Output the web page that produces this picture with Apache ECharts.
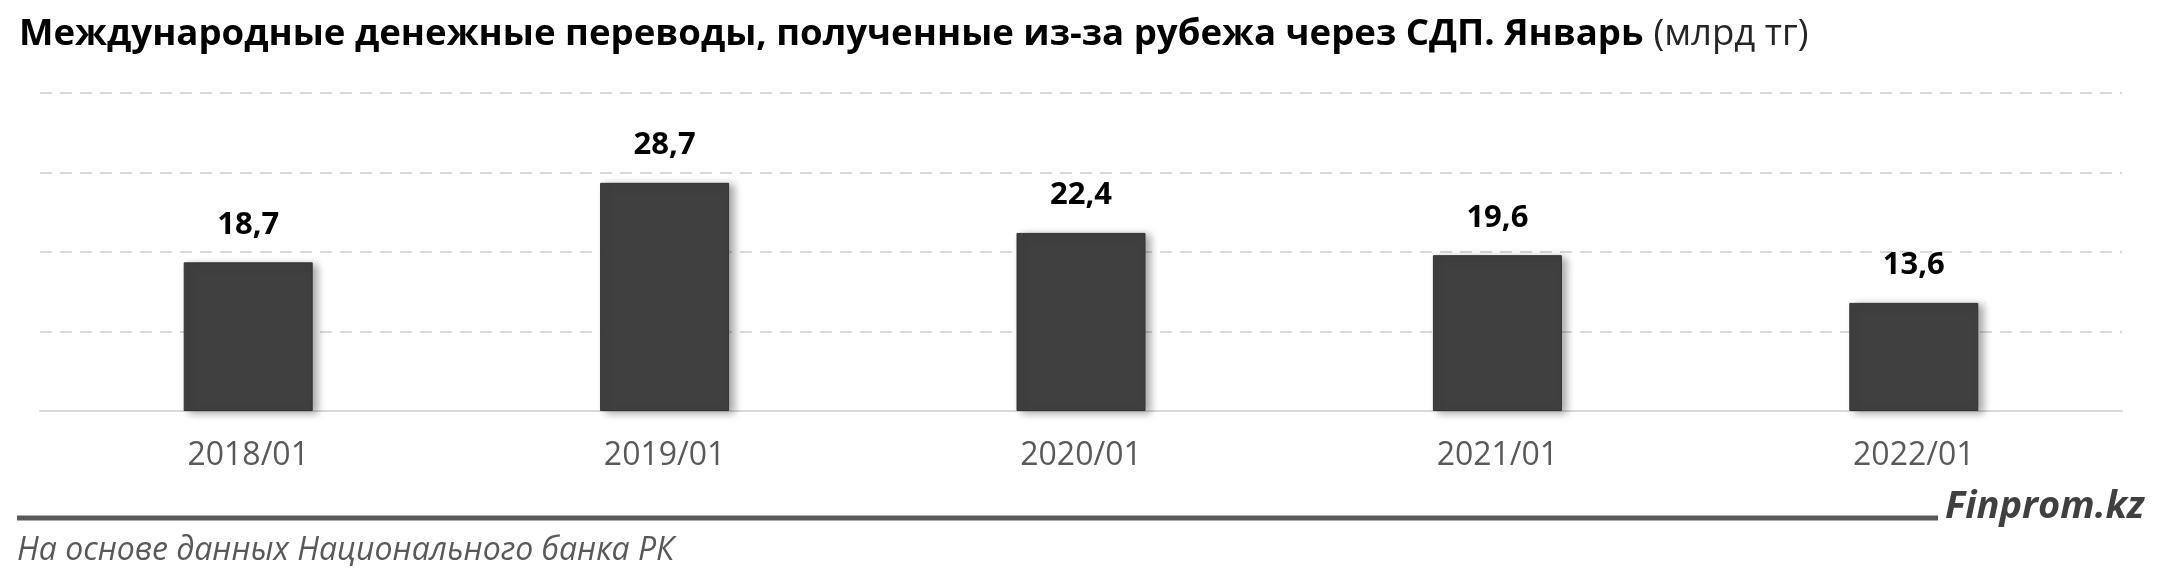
<!DOCTYPE html>
<html><head><meta charset="utf-8">
<script src="https://cdn.jsdelivr.net/npm/echarts@6/dist/echarts.min.js"></script>
<style>html,body{margin:0;padding:0;background:#fff}#c{width:2160px;height:582px}</style>
</head><body><div id="c"></div>
<script>
const categories = ['2018/01', '2019/01', '2020/01', '2021/01', '2022/01'];
const values = [18.7, 28.7, 22.4, 19.6, 13.6];
const titleMain = 'Международные денежные переводы, полученные из-за рубежа через СДП. Январь';
const titleUnit = '(млрд тг)';
const sourceText = 'На основе данных Национального банка РК';
const brandText = 'Finprom.kz';

const chart = echarts.init(document.getElementById('c'));
chart.setOption({
  animation: false,
  title: {
    text: '{b|' + titleMain + '}{s| }{r|' + titleUnit + '}',
    left: 14, top: 11,
    textStyle: {
      rich: {
        b: { fontFamily: 'Open Sans', fontWeight: 'bold', fontSize: 36.6, color: '#000' },
        s: { fontFamily: 'Open Sans', fontSize: 36.6, width: 10 },
        r: { fontFamily: 'Open Sans', fontWeight: 'normal', fontSize: 36.6, color: '#262626' }
      }
    }
  },
  grid: { left: 40, right: 38, top: 93, bottom: 171, containLabel: false },
  xAxis: {
    type: 'category', data: categories,
    axisLine: { lineStyle: { color: '#d9d9d9', width: 2 } },
    axisTick: { show: false },
    axisLabel: { fontFamily: 'Open Sans', fontSize: 32, color: '#595959', margin: 29 }
  },
  yAxis: {
    type: 'value', min: 0, max: 40, interval: 10,
    axisLabel: { show: false }, axisLine: { show: false }, axisTick: { show: false },
    splitLine: { lineStyle: { color: '#d9d9d9', width: 2, type: [12, 8] } }
  },
  series: [{
    type: 'bar', data: values, barWidth: 129,
    itemStyle: {
      color: '#404040', borderColor: '#333', borderWidth: 1,
      shadowColor: 'rgba(0,0,0,0.35)', shadowBlur: 8, shadowOffsetX: 5, shadowOffsetY: 2
    },
    label: {
      show: true, position: 'top', distance: 22,
      fontFamily: 'Open Sans', fontWeight: 'bold', fontSize: 31, color: '#000',
      formatter: p => String(p.value).replace('.', ',')
    }
  }],
  graphic: [
    { type: 'line', shape: { x1: 17, y1: 518, x2: 1938, y2: 518 },
      style: { stroke: '#595959', lineWidth: 5 } },
    { type: 'text', left: 1945, top: 488,
      style: { text: brandText, fontFamily: 'Open Sans', fontWeight: 'bold', fontStyle: 'italic', fontSize: 38, fill: '#404040' } },
    { type: 'text', left: 17, top: 535,
      style: { text: sourceText, fontFamily: 'Open Sans', fontStyle: 'italic', fontSize: 32, fill: '#595959' } }
  ]
});
</script></body></html>
